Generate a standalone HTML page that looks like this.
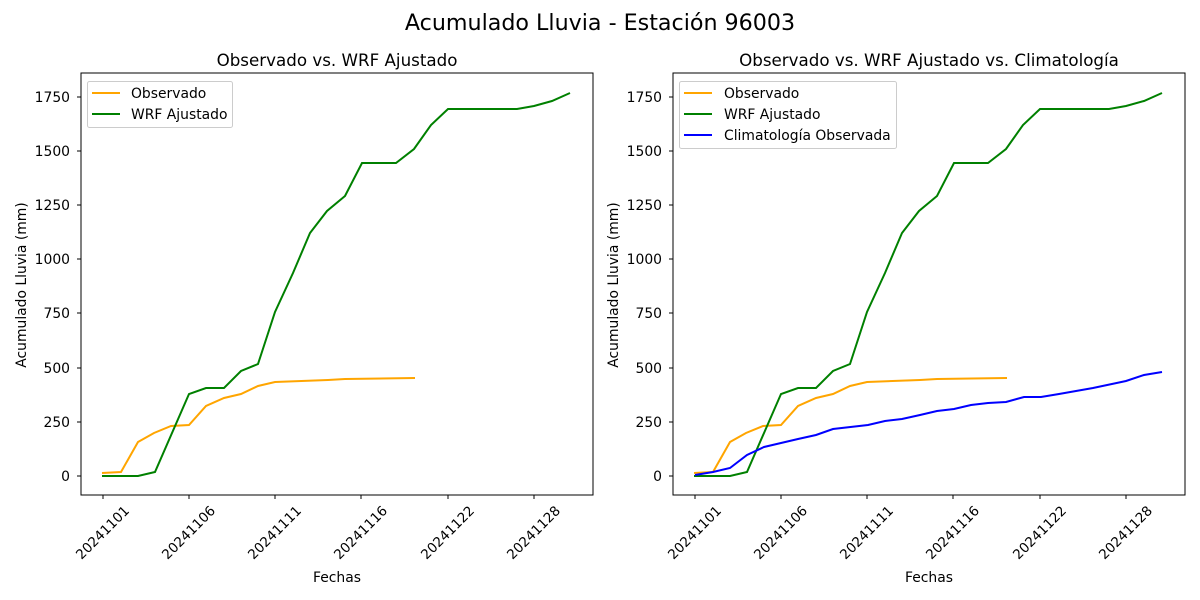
<!DOCTYPE html>
<html><head><meta charset="utf-8"><style>
body{margin:0;background:#fff}
svg{display:block;font-family:"DejaVu Sans","Liberation Sans",sans-serif}
</style></head><body>
<svg width="1200" height="600" viewBox="0 0 1200 600" xmlns="http://www.w3.org/2000/svg">
<rect width="1200" height="600" fill="#fff"/>
<text x="600" y="30" font-size="22.2" text-anchor="middle">Acumulado Lluvia - Estación 96003</text>

<!-- LEFT -->
<g>
<text x="337" y="66" font-size="16.7" text-anchor="middle">Observado vs. WRF Ajustado</text>
<g font-size="13.9" text-anchor="end" fill="#000">
<text x="70" y="481">0</text>
<text x="70" y="427">250</text>
<text x="70" y="373">500</text>
<text x="70" y="318">750</text>
<text x="70" y="264">1000</text>
<text x="70" y="210">1250</text>
<text x="70" y="156">1500</text>
<text x="70" y="102">1750</text>
</g>
<g stroke="#000" stroke-width="1">
<line x1="77" x2="81" y1="476" y2="476"/><line x1="77" x2="81" y1="422" y2="422"/><line x1="77" x2="81" y1="368" y2="368"/><line x1="77" x2="81" y1="313" y2="313"/><line x1="77" x2="81" y1="259" y2="259"/><line x1="77" x2="81" y1="205" y2="205"/><line x1="77" x2="81" y1="151" y2="151"/><line x1="77" x2="81" y1="97" y2="97"/>
<line x1="103" x2="103" y1="495" y2="499"/><line x1="189" x2="189" y1="495" y2="499"/><line x1="275" x2="275" y1="495" y2="499"/><line x1="361" x2="361" y1="495" y2="499"/><line x1="448" x2="448" y1="495" y2="499"/><line x1="534" x2="534" y1="495" y2="499"/>
</g>
<g font-size="13.5" text-anchor="middle" dominant-baseline="middle">
<text transform="translate(103,533) rotate(-45)">20241101</text>
<text transform="translate(189,533) rotate(-45)">20241106</text>
<text transform="translate(275,533) rotate(-45)">20241111</text>
<text transform="translate(361,533) rotate(-45)">20241116</text>
<text transform="translate(448,533) rotate(-45)">20241122</text>
<text transform="translate(534,533) rotate(-45)">20241128</text>
</g>
<text x="337" y="582" font-size="13.9" text-anchor="middle">Fechas</text>
<text transform="translate(26,285) rotate(-90)" font-size="13.9" text-anchor="middle">Acumulado Lluvia (mm)</text>
<polyline fill="none" stroke="orange" stroke-width="2" points="102,473 121,472 138,442 154,433 171,426 189,425 206,406 224,398 241,394 258,386 275,382 328,380 345,379 415,378"/>
<polyline fill="none" stroke="green" stroke-width="2" points="102,476 138,476 155,472 189,394 206,388 224,388 241,371 258,364 275,312 293,273 310,233 327,211 345,196 362,163 396,163 414,149 431,125 448,109 517,109 534,106 552,101 570,93"/>
<rect x="81" y="73" width="512" height="422" fill="none" stroke="#000" stroke-width="1"/>
<rect x="87.5" y="81.5" width="145" height="46" rx="2" fill="#fff" fill-opacity="0.8" stroke="#ccc"/>
<line x1="92" x2="120" y1="93" y2="93" stroke="orange" stroke-width="2"/>
<line x1="92" x2="120" y1="114" y2="114" stroke="green" stroke-width="2"/>
<g font-size="13.9"><text x="131" y="98">Observado</text><text x="131" y="119">WRF Ajustado</text></g>
</g>

<!-- RIGHT -->
<g>
<text x="929" y="66" font-size="16.7" text-anchor="middle">Observado vs. WRF Ajustado vs. Climatología</text>
<g font-size="13.9" text-anchor="end">
<text x="662" y="481">0</text>
<text x="662" y="427">250</text>
<text x="662" y="373">500</text>
<text x="662" y="318">750</text>
<text x="662" y="264">1000</text>
<text x="662" y="210">1250</text>
<text x="662" y="156">1500</text>
<text x="662" y="102">1750</text>
</g>
<g stroke="#000" stroke-width="1">
<line x1="669" x2="673" y1="476" y2="476"/><line x1="669" x2="673" y1="422" y2="422"/><line x1="669" x2="673" y1="368" y2="368"/><line x1="669" x2="673" y1="313" y2="313"/><line x1="669" x2="673" y1="259" y2="259"/><line x1="669" x2="673" y1="205" y2="205"/><line x1="669" x2="673" y1="151" y2="151"/><line x1="669" x2="673" y1="97" y2="97"/>
<line x1="695" x2="695" y1="495" y2="499"/><line x1="781" x2="781" y1="495" y2="499"/><line x1="867" x2="867" y1="495" y2="499"/><line x1="953" x2="953" y1="495" y2="499"/><line x1="1040" x2="1040" y1="495" y2="499"/><line x1="1126" x2="1126" y1="495" y2="499"/>
</g>
<g font-size="13.5" text-anchor="middle" dominant-baseline="middle">
<text transform="translate(695,533) rotate(-45)">20241101</text>
<text transform="translate(781,533) rotate(-45)">20241106</text>
<text transform="translate(867,533) rotate(-45)">20241111</text>
<text transform="translate(953,533) rotate(-45)">20241116</text>
<text transform="translate(1040,533) rotate(-45)">20241122</text>
<text transform="translate(1126,533) rotate(-45)">20241128</text>
</g>
<text x="929" y="582" font-size="13.9" text-anchor="middle">Fechas</text>
<text transform="translate(618,285) rotate(-90)" font-size="13.9" text-anchor="middle">Acumulado Lluvia (mm)</text>
<g transform="translate(592,0)">
<polyline fill="none" stroke="orange" stroke-width="2" points="102,473 121,472 138,442 154,433 171,426 189,425 206,406 224,398 241,394 258,386 275,382 328,380 345,379 415,378"/>
<polyline fill="none" stroke="green" stroke-width="2" points="102,476 138,476 155,472 189,394 206,388 224,388 241,371 258,364 275,312 293,273 310,233 327,211 345,196 362,163 396,163 414,149 431,125 448,109 517,109 534,106 552,101 570,93"/>
</g>
<polyline fill="none" stroke="blue" stroke-width="2" points="695,475 713,472 730,468 747,455 764,447 781,443 798,439 816,435 833,429 868,425 885,421 902,419 920,415 937,411 954,409 971,405 988,403 1006,402 1024,397 1041,397 1059,394 1093,388 1126,381 1144,375 1162,372"/>
<rect x="673" y="73" width="512" height="422" fill="none" stroke="#000" stroke-width="1"/>
<rect x="679.5" y="81.5" width="217" height="67" rx="2" fill="#fff" fill-opacity="0.8" stroke="#ccc"/>
<line x1="684" x2="712" y1="93" y2="93" stroke="orange" stroke-width="2"/>
<line x1="684" x2="712" y1="114" y2="114" stroke="green" stroke-width="2"/>
<line x1="684" x2="712" y1="135" y2="135" stroke="blue" stroke-width="2"/>
<g font-size="13.9"><text x="724" y="98">Observado</text><text x="724" y="119">WRF Ajustado</text><text x="724" y="140">Climatología Observada</text></g>
</g>
</svg>
</body></html>
